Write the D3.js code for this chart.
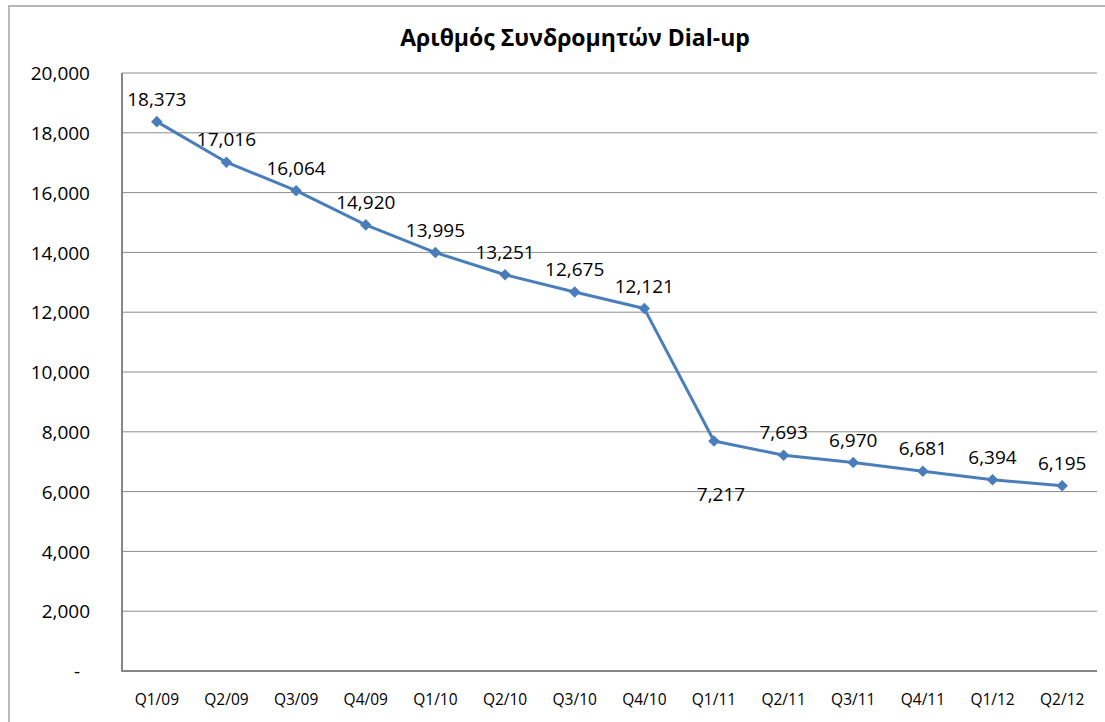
<!DOCTYPE html>
<html>
<head>
<meta charset="utf-8">
<script src="https://cdn.jsdelivr.net/npm/d3@7"></script>
<style>
  body { margin: 0; background: #fff; }
  svg text { font-family: "Open Sans", "Noto Sans", sans-serif; fill: #000; }
</style>
</head>
<body>
<script>
// dados do gráfico
let quarters = ["Q1/09","Q2/09","Q3/09","Q4/09","Q1/10","Q2/10","Q3/10","Q4/10","Q1/11","Q2/11","Q3/11","Q4/11","Q1/12","Q2/12"];
let subscribers = [18373,17016,16064,14920,13995,13251,12675,12121,7693,7217,6970,6681,6394,6195];
// etiquetas tal como aparecem no original (Q1/11 e Q2/11 trocadas)
let pointLabels = ["18,373","17,016","16,064","14,920","13,995","13,251","12,675","12,121","7,217","7,693","6,970","6,681","6,394","6,195"];
let labelBelow = [8];
let yTicks = [0,2000,4000,6000,8000,10000,12000,14000,16000,18000,20000];
let title = "Αριθμός Συνδρομητών Dial-up";

let width = 1105, height = 722;
let plot = {left: 122, top: 73, right: 1097, bottom: 671};

let svg = d3.select("body").append("svg")
  .attr("width", width)
  .attr("height", height);

// moldura exterior
svg.append("rect")
  .attr("x", 9).attr("y", 6)
  .attr("width", 1140).attr("height", 760)
  .attr("fill", "none")
  .attr("stroke", "#b8b8b8")
  .attr("stroke-width", 2);

svg.append("text")
  .attr("x", 575).attr("y", 46)
  .attr("text-anchor", "middle")
  .style("font-size", "23px")
  .style("font-weight", "bold")
  .text(title);

let x = d3.scaleBand()
  .domain(quarters)
  .range([plot.left, plot.right]);

let y = d3.scaleLinear()
  .domain([0, 20000])
  .range([plot.bottom, plot.top]);

// grelha
svg.append("g")
  .selectAll("line")
  .data(yTicks.filter(d => d > 0))
  .enter().append("line")
  .attr("x1", plot.left).attr("x2", plot.right)
  .attr("y1", d => y(d)).attr("y2", d => y(d))
  .attr("stroke", "#8c8c8c")
  .attr("stroke-width", 1);

// eixo Y
let yAxis = svg.append("g")
  .attr("transform", "translate(" + plot.left + ",0)")
  .call(d3.axisLeft(y).tickValues(yTicks).tickSize(0).tickPadding(32)
    .tickFormat(d => d === 0 ? "-" : d3.format(",")(d)));
yAxis.select(".domain").remove();
yAxis.selectAll("text")
  .style("font-size", "19px")
  .attr("dy", "0.35em")
  .attr("dx", d => d === 0 ? -10 : 0);

// eixo X
let xAxis = svg.append("g")
  .attr("transform", "translate(0," + plot.bottom + ")")
  .call(d3.axisBottom(x).tickSize(0).tickPadding(23));
xAxis.select(".domain").remove();
xAxis.selectAll("text").style("font-size", "15.5px");

// linhas dos eixos
svg.append("line")
  .attr("x1", plot.left).attr("x2", plot.left)
  .attr("y1", plot.top).attr("y2", plot.bottom + 1)
  .attr("stroke", "#868686").attr("stroke-width", 2);
svg.append("line")
  .attr("x1", plot.left - 1).attr("x2", plot.right)
  .attr("y1", plot.bottom).attr("y2", plot.bottom)
  .attr("stroke", "#868686").attr("stroke-width", 2);

let cx = d => x(d) + x.bandwidth() / 2;

let line = d3.line()
  .x((d, i) => cx(quarters[i]))
  .y(d => y(d));

svg.append("path")
  .datum(subscribers)
  .attr("d", line)
  .attr("fill", "none")
  .attr("stroke", "#4a7ebb")
  .attr("stroke-width", 3)
  .attr("stroke-linejoin", "round");

svg.append("g")
  .selectAll("path")
  .data(subscribers)
  .enter().append("path")
  .attr("d", d3.symbol().type(d3.symbolDiamond2).size(85))
  .attr("transform", (d, i) => "translate(" + cx(quarters[i]) + "," + y(d) + ")")
  .attr("fill", "#4a7ebb");

svg.append("g")
  .selectAll("text")
  .data(subscribers)
  .enter().append("text")
  .attr("x", (d, i) => cx(quarters[i]) + (labelBelow.includes(i) ? 7 : 0))
  .attr("y", (d, i) => labelBelow.includes(i) ? y(d) + 60 : y(d) - 16)
  .attr("text-anchor", "middle")
  .style("font-size", "19px")
  .text((d, i) => pointLabels[i]);
</script>
</body>
</html>
